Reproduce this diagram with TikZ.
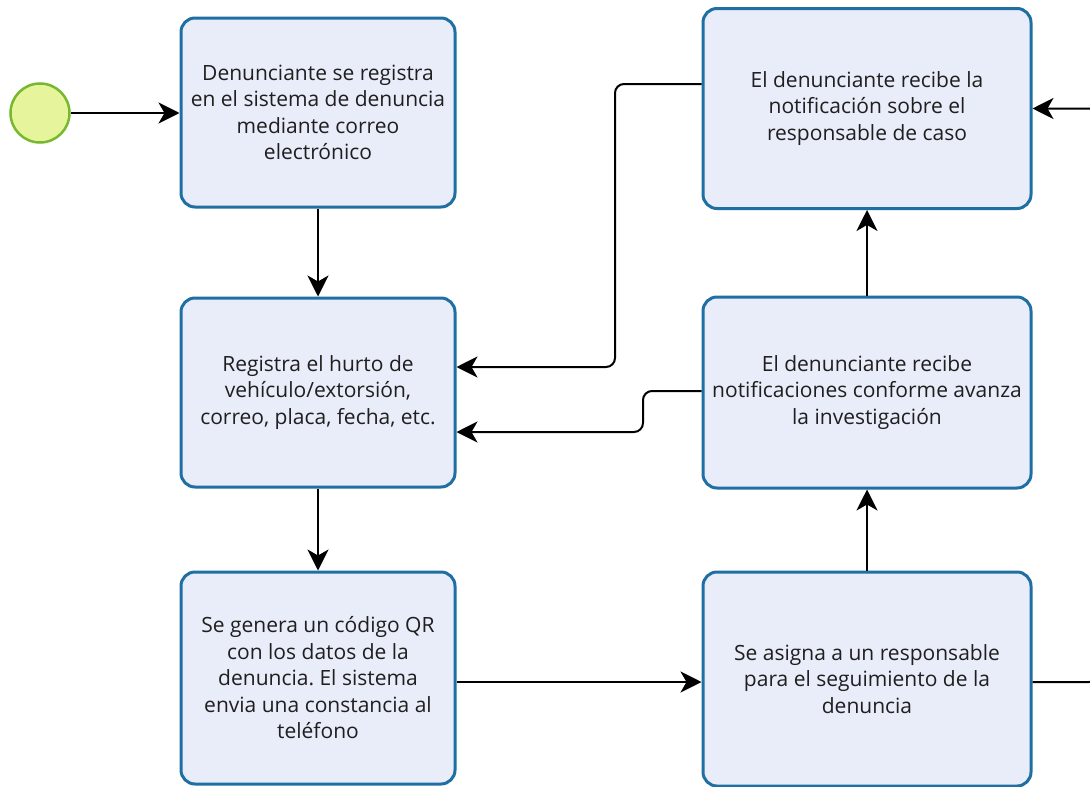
\documentclass[tikz,border=0pt]{standalone}
\usepackage{fontspec}
\setmainfont{Open Sans}
\usetikzlibrary{arrows.meta,calc}
\definecolor{boxborder}{HTML}{1F6FA3}
\definecolor{boxfill}{HTML}{E9ECF9}
\definecolor{startfill}{HTML}{E6F59C}
\definecolor{startborder}{HTML}{78B82E}
\tikzset{
  task/.style={draw=boxborder, fill=boxfill, line width=3pt, rounded corners=14pt,
    align=center, inner sep=0pt, font=\fontsize{21}{26.5}\selectfont, text=black!88},
  startev/.style={circle, draw=startborder, fill=startfill, line width=2.5pt, minimum size=59pt, inner sep=0pt},
  flow/.style={line width=2pt, rounded corners=9pt, -{Stealth[length=21pt,width=21pt,inset=6pt]}},
}
\begin{document}
\frenchspacing
\begin{tikzpicture}[x=1pt,y=-1pt]
\useasboundingbox (0,0) rectangle (1090,787);
\clip (0,0) rectangle (1090,787);
\fill[white] (0,0) rectangle (1090,787);

\node[startev] (start) at (40,113) {};

\node[task, minimum width=274pt, minimum height=189pt] (b1) at (318,112.5)
  {Denunciante se registra\\en el sistema de denuncia\\mediante correo\\electrónico};
\node[task, minimum width=274pt, minimum height=189pt] (b2) at (318,392.5)
  {Registra el hurto de\\vehículo/extorsión,\\correo, placa, fecha, etc.};
\node[task, minimum width=274pt, minimum height=212pt] (b3) at (318,678)
  {Se genera un código QR\\con los datos de la\\denuncia. El sistema\\envia una constancia al\\teléfono};
\node[task, minimum width=328pt, minimum height=200pt] (b4) at (867,108.5)
  {El denunciante recibe la\\notificación sobre el\\responsable de caso};
\node[task, minimum width=328pt, minimum height=191pt] (b5) at (867,392.5)
  {El denunciante recibe\\notificaciones conforme avanza\\la investigación};
\node[task, minimum width=328pt, minimum height=214pt] (b6) at (867,679)
  {Se asigna a un responsable\\para el seguimiento de la\\denuncia};

\coordinate (rr) at (1098,400);

\draw[flow] (start.east) -- (start.east -| b1.west);
\draw[flow] (b1.south) -- (b2.north);
\draw[flow] (b2.south) -- (b3.north);
\draw[flow] ([yshift=-3pt]b6.west -| b3.east) -- ([yshift=-3pt]b6.west);
\draw[flow] (b6.north) -- (b5.south);
\draw[flow] (b5.north) -- (b4.south);
\draw[flow] ([yshift=24.5pt]b4.west) -| (615,300) |- ([yshift=25.5pt]b2.east);
\draw[flow] ([yshift=1.5pt]b5.west) -- (643,391) -- (643,432) -- ([yshift=-39.5pt]b2.east);
\draw[flow] ([yshift=-3pt]b6.east) -| (rr) |- (b4.east);
\end{tikzpicture}
\end{document}
